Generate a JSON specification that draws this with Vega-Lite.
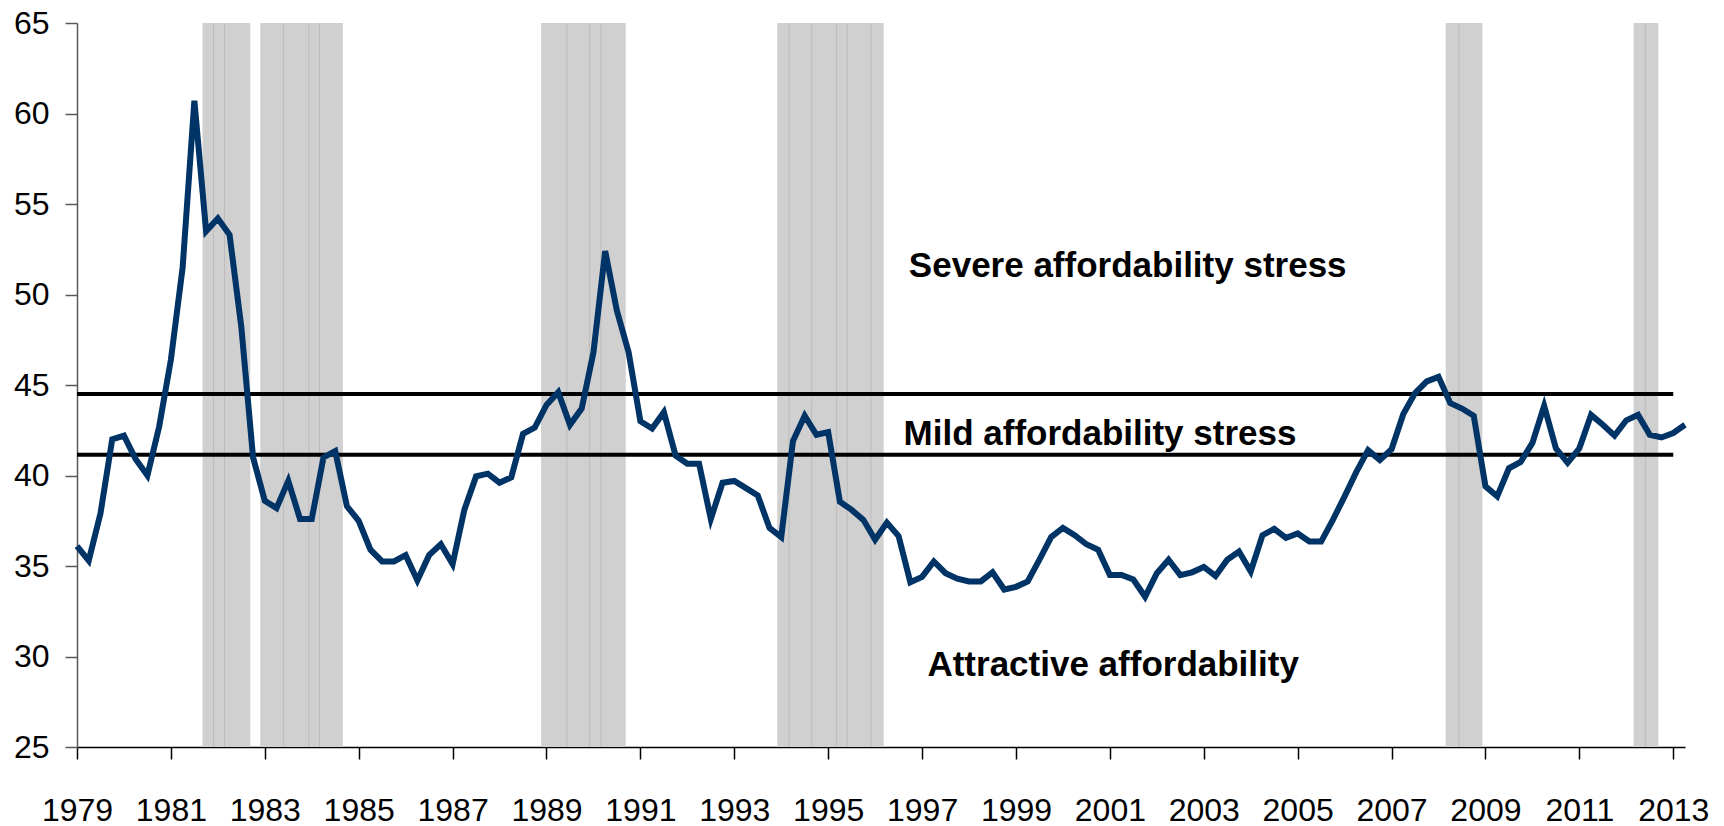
{
  "$schema": "https://vega.github.io/schema/vega-lite/v6.json",
  "width": 1608,
  "height": 724,
  "autosize": "none",
  "padding": {"left": 77, "top": 23, "right": 39, "bottom": 79},
  "background": "white",
  "config": {"view": {"stroke": null}},
  "datasets": {
    "series": [
      {"t":1979,"v":36.1},{"t":1979.25,"v":35.3},{"t":1979.5,"v":37.9},{"t":1979.75,"v":42.0},
      {"t":1980,"v":42.2},{"t":1980.25,"v":40.9},{"t":1980.5,"v":40.0},{"t":1980.75,"v":42.7},
      {"t":1981,"v":46.4},{"t":1981.25,"v":51.5},{"t":1981.5,"v":60.7},{"t":1981.75,"v":53.5},
      {"t":1982,"v":54.2},{"t":1982.25,"v":53.3},{"t":1982.5,"v":48.2},{"t":1982.75,"v":41.0},
      {"t":1983,"v":38.6},{"t":1983.25,"v":38.2},{"t":1983.5,"v":39.7},{"t":1983.75,"v":37.6},
      {"t":1984,"v":37.6},{"t":1984.25,"v":41.0},{"t":1984.5,"v":41.35},{"t":1984.75,"v":38.3},
      {"t":1985,"v":37.5},{"t":1985.25,"v":35.9},{"t":1985.5,"v":35.25},{"t":1985.75,"v":35.25},
      {"t":1986,"v":35.6},{"t":1986.25,"v":34.2},{"t":1986.5,"v":35.6},{"t":1986.75,"v":36.2},
      {"t":1987,"v":35.1},{"t":1987.25,"v":38.1},{"t":1987.5,"v":39.95},{"t":1987.75,"v":40.1},
      {"t":1988,"v":39.6},{"t":1988.25,"v":39.9},{"t":1988.5,"v":42.3},{"t":1988.75,"v":42.65},
      {"t":1989,"v":43.9},{"t":1989.25,"v":44.6},{"t":1989.5,"v":42.8},{"t":1989.75,"v":43.7},
      {"t":1990,"v":46.8},{"t":1990.25,"v":52.4},{"t":1990.5,"v":49.1},{"t":1990.75,"v":46.8},
      {"t":1991,"v":43.0},{"t":1991.25,"v":42.6},{"t":1991.5,"v":43.5},{"t":1991.75,"v":41.1},
      {"t":1992,"v":40.65},{"t":1992.25,"v":40.65},{"t":1992.5,"v":37.6},{"t":1992.75,"v":39.6},
      {"t":1993,"v":39.7},{"t":1993.25,"v":39.3},{"t":1993.5,"v":38.9},{"t":1993.75,"v":37.1},
      {"t":1994,"v":36.6},{"t":1994.25,"v":41.9},{"t":1994.5,"v":43.3},{"t":1994.75,"v":42.25},
      {"t":1995,"v":42.4},{"t":1995.25,"v":38.55},{"t":1995.5,"v":38.1},{"t":1995.75,"v":37.55},
      {"t":1996,"v":36.45},{"t":1996.25,"v":37.4},{"t":1996.5,"v":36.65},{"t":1996.75,"v":34.1},
      {"t":1997,"v":34.4},{"t":1997.25,"v":35.25},{"t":1997.5,"v":34.6},{"t":1997.75,"v":34.3},
      {"t":1998,"v":34.15},{"t":1998.25,"v":34.15},{"t":1998.5,"v":34.65},{"t":1998.75,"v":33.7},
      {"t":1999,"v":33.85},{"t":1999.25,"v":34.15},{"t":1999.5,"v":35.35},{"t":1999.75,"v":36.6},
      {"t":2000,"v":37.1},{"t":2000.25,"v":36.7},{"t":2000.5,"v":36.2},{"t":2000.75,"v":35.9},
      {"t":2001,"v":34.5},{"t":2001.25,"v":34.5},{"t":2001.5,"v":34.25},{"t":2001.75,"v":33.3},
      {"t":2002,"v":34.6},{"t":2002.25,"v":35.35},{"t":2002.5,"v":34.5},{"t":2002.75,"v":34.65},
      {"t":2003,"v":34.95},{"t":2003.25,"v":34.45},{"t":2003.5,"v":35.35},{"t":2003.75,"v":35.8},
      {"t":2004,"v":34.7},{"t":2004.25,"v":36.7},{"t":2004.5,"v":37.05},{"t":2004.75,"v":36.55},
      {"t":2005,"v":36.8},{"t":2005.25,"v":36.35},{"t":2005.5,"v":36.35},{"t":2005.75,"v":37.55},
      {"t":2006,"v":38.85},{"t":2006.25,"v":40.2},{"t":2006.5,"v":41.4},{"t":2006.75,"v":40.85},
      {"t":2007,"v":41.45},{"t":2007.25,"v":43.4},{"t":2007.5,"v":44.55},{"t":2007.75,"v":45.2},
      {"t":2008,"v":45.45},{"t":2008.25,"v":44.0},{"t":2008.5,"v":43.7},{"t":2008.75,"v":43.3},
      {"t":2009,"v":39.4},{"t":2009.25,"v":38.85},{"t":2009.5,"v":40.4},{"t":2009.75,"v":40.75},
      {"t":2010,"v":41.8},{"t":2010.25,"v":43.85},{"t":2010.5,"v":41.5},{"t":2010.75,"v":40.7},
      {"t":2011,"v":41.5},{"t":2011.25,"v":43.35},{"t":2011.5,"v":42.8},{"t":2011.75,"v":42.2},
      {"t":2012,"v":43.05},{"t":2012.25,"v":43.35},{"t":2012.5,"v":42.25},{"t":2012.75,"v":42.1},
      {"t":2013,"v":42.35},{"t":2013.25,"v":42.8}
    ],
    "bands": [
      {"t":1981.674,"t2":1982.69},
      {"t":1982.903,"t2":1984.663},
      {"t":1988.885,"t2":1990.688},
      {"t":1993.916,"t2":1996.181},
      {"t":2008.153,"t2":2008.934},
      {"t":2012.155,"t2":2012.681}
    ],
    "bandLines": [
      {"t":1981.908},{"t":1982.142},{"t":1983.399},{"t":1983.939},{"t":1984.165},
      {"t":1989.432},{"t":1989.913},{"t":1990.156},{"t":1994.165},{"t":1994.648},
      {"t":1995.181},{"t":1995.406},{"t":1995.911},{"t":2008.436},{"t":2012.404}
    ],
    "thresholds": [
      {"t":1979,"t2":2013,"v":44.5},
      {"t":1979,"t2":2013,"v":41.14}
    ],
    "labels": [
      {"t":2001.38,"v":50.97,"label":"Severe affordability stress"},
      {"t":2000.79,"v":41.67,"label":"Mild affordability stress"},
      {"t":2001.07,"v":28.91,"label":"Attractive affordability"}
    ]
  },
  "encoding": {
    "x": {
      "field": "t",
      "type": "quantitative",
      "scale": {"domain": [1979, 2013.25], "nice": false, "zero": false},
      "axis": {
        "title": null,
        "values": [1979,1981,1983,1985,1987,1989,1991,1993,1995,1997,1999,2001,2003,2005,2007,2009,2011,2013],
        "format": "d",
        "grid": false,
        "domainColor": "#000000",
        "domainWidth": 1.5,
        "tickColor": "#000000",
        "tickSize": 12,
        "tickWidth": 1.5,
        "labelFont": "Liberation Sans",
        "labelFontSize": 32,
        "labelColor": "#000000",
        "labelPadding": 36,
        "labelOverlap": false,
        "labelFlush": false,
        "labelBound": false
      }
    }
  },
  "layer": [
    {
      "data": {"name": "bands"},
      "mark": {"type": "rect", "color": "#d0d0d0"},
      "encoding": {"x2": {"field": "t2"}}
    },
    {
      "data": {"name": "bandLines"},
      "mark": {"type": "rule", "color": "#bcbcbc", "strokeWidth": 1},
      "encoding": {}
    },
    {
      "data": {"name": "thresholds"},
      "mark": {"type": "rule", "color": "#000000", "strokeWidth": 4},
      "encoding": {
        "x2": {"field": "t2"},
        "y": {
          "field": "v",
          "type": "quantitative",
          "scale": {"domain": [25, 65], "nice": false, "zero": false},
          "axis": {
            "title": null,
            "values": [25,30,35,40,45,50,55,60,65],
            "grid": false,
            "domainColor": "#595959",
            "domainWidth": 1.5,
            "tickColor": "#595959",
            "tickSize": 12,
            "tickWidth": 1.5,
            "labelFont": "Liberation Sans",
            "labelFontSize": 32,
            "labelColor": "#000000",
            "labelPadding": 16,
            "labelOverlap": false,
            "labelFlush": false,
            "labelBound": false
          }
        }
      }
    },
    {
      "data": {"name": "series"},
      "mark": {"type": "line", "color": "#003366", "strokeWidth": 6, "strokeJoin": "miter"},
      "encoding": {
        "y": {
          "field": "v",
          "type": "quantitative",
          "scale": {"domain": [25, 65], "nice": false, "zero": false},
          "axis": {
            "title": null,
            "values": [25,30,35,40,45,50,55,60,65],
            "grid": false,
            "domainColor": "#595959",
            "domainWidth": 1.5,
            "tickColor": "#595959",
            "tickSize": 12,
            "tickWidth": 1.5,
            "labelFont": "Liberation Sans",
            "labelFontSize": 32,
            "labelColor": "#000000",
            "labelPadding": 16,
            "labelOverlap": false,
            "labelFlush": false,
            "labelBound": false
          }
        }
      }
    },
    {
      "data": {"name": "labels"},
      "mark": {"type": "text", "font": "Liberation Sans", "fontSize": 35, "fontWeight": "bold", "align": "center", "baseline": "alphabetic", "color": "#000000"},
      "encoding": {
        "y": {
          "field": "v",
          "type": "quantitative",
          "scale": {"domain": [25, 65], "nice": false, "zero": false},
          "axis": {
            "title": null,
            "values": [25,30,35,40,45,50,55,60,65],
            "grid": false,
            "domainColor": "#595959",
            "domainWidth": 1.5,
            "tickColor": "#595959",
            "tickSize": 12,
            "tickWidth": 1.5,
            "labelFont": "Liberation Sans",
            "labelFontSize": 32,
            "labelColor": "#000000",
            "labelPadding": 16,
            "labelOverlap": false,
            "labelFlush": false,
            "labelBound": false
          }
        },
        "text": {"field": "label"}
      }
    }
  ]
}
